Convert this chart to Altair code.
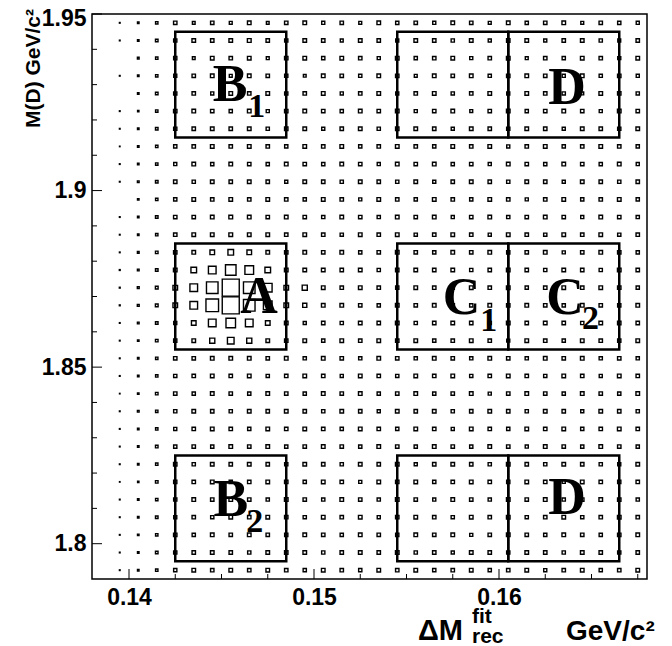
import altair as alt
import pandas as pd

# bin centres
x_centers = [0.1395, 0.1405, 0.1415, 0.1425, 0.1435, 0.1445, 0.1455, 0.1465, 0.1475, 0.1485,
             0.1495, 0.1505, 0.1515, 0.1525, 0.1535, 0.1545, 0.1555, 0.1565, 0.1575, 0.1585,
             0.1595, 0.1605, 0.1615, 0.1625, 0.1635, 0.1645, 0.1655, 0.1665, 0.1675]
y_centers = [1.9475, 1.9425, 1.9375, 1.9325, 1.9275, 1.9225, 1.9175, 1.9125, 1.9075, 1.9025,
             1.8975, 1.8925, 1.8875, 1.8825, 1.8775, 1.8725, 1.8675, 1.8625, 1.8575, 1.8525,
             1.8475, 1.8425, 1.8375, 1.8325, 1.8275, 1.8225, 1.8175, 1.8125, 1.8075, 1.8025,
             1.7975, 1.7925]

# bin contents (rows top to bottom)
counts = [
    [4,9,14,20,16,20,17,21,16,20,21,18,20,17,21,19,20,18,21,20,17,21,19,20,21,17,20,19,18],
    [4,9,15,19,21,20,21,22,20,19,21,20,17,21,20,18,21,20,19,21,18,20,21,18,20,21,19,17,20],
    [0,10,14,19,16,21,20,21,17,20,21,19,21,20,18,21,19,20,21,18,20,21,17,20,19,21,20,18,21],
    [4,9,14,18,20,21,17,21,20,19,16,21,20,19,21,20,17,21,20,21,19,20,21,20,18,21,19,20,18],
    [0,9,15,19,20,18,21,20,21,19,20,21,18,20,21,18,20,21,19,20,21,18,21,20,19,17,21,20,19],
    [4,8,14,20,21,20,19,21,18,20,21,20,19,21,20,21,18,20,21,17,20,21,19,20,21,20,18,21,20],
    [4,9,15,19,20,21,20,21,19,20,21,18,20,21,19,20,21,20,18,21,20,19,21,20,18,21,20,19,21],
    [3,9,14,19,20,21,20,21,20,19,21,20,21,19,20,21,20,19,21,20,21,18,20,21,19,20,21,20,19],
    [4,9,14,18,21,19,21,20,19,21,20,19,21,20,18,21,20,21,19,20,18,21,20,19,21,20,19,21,18],
    [4,10,15,20,19,21,20,21,20,18,21,20,19,21,20,19,21,18,20,21,20,19,21,20,18,21,20,19,20],
    [0,9,14,19,21,20,21,20,21,20,19,21,20,18,21,20,19,21,20,19,21,20,18,20,21,19,20,21,19],
    [4,9,15,20,20,21,22,21,20,21,20,19,21,20,19,21,20,21,18,20,21,19,20,21,20,18,21,20,19],
    [4,9,14,20,21,21,22,21,21,20,21,20,19,21,20,21,19,20,21,20,18,21,20,19,21,20,21,19,20],
    [4,10,15,20,21,27,33,27,21,20,21,20,21,19,20,21,20,19,21,20,21,19,20,21,18,20,21,20,19],
    [5,10,15,21,33,45,62,51,33,21,21,21,20,21,19,20,21,20,21,19,20,21,20,19,21,20,19,21,20],
    [5,11,16,27,45,68,100,68,51,27,30,21,20,21,20,19,21,20,19,21,20,21,19,20,21,20,21,20,19],
    [5,11,16,27,45,74,100,68,51,27,24,21,21,20,19,21,20,21,20,19,21,20,21,20,19,21,20,19,21],
    [4,10,15,18,27,45,56,45,27,21,18,20,19,21,20,21,19,20,21,20,19,21,20,21,20,19,21,20,20],
    [4,9,15,19,21,30,39,30,21,20,21,19,21,20,21,20,21,19,20,21,20,18,21,20,19,21,20,19,21],
    [4,9,14,20,20,21,21,21,20,21,19,21,20,19,21,20,19,21,20,19,21,20,19,21,20,21,19,20,19],
    [4,9,14,19,20,21,20,21,19,20,21,20,18,21,20,19,21,20,21,19,20,21,20,19,21,20,18,21,20],
    [3,9,15,20,19,21,20,19,21,20,19,21,20,21,19,20,21,19,20,21,18,20,21,20,19,21,20,19,21],
    [4,10,14,19,21,20,19,21,20,21,20,19,21,20,18,21,20,21,19,20,21,20,19,21,20,18,21,20,19],
    [4,9,14,18,20,21,20,19,21,20,21,20,19,21,20,19,21,20,18,21,20,19,21,20,21,19,20,21,20],
    [4,9,15,19,20,19,21,20,21,19,20,21,20,19,21,20,19,21,20,19,21,20,18,21,20,19,21,20,19],
    [4,9,14,20,19,21,20,21,20,19,21,20,19,21,20,21,18,20,21,20,19,21,20,19,21,20,19,18,21],
    [3,8,15,19,20,21,19,20,21,20,19,21,20,18,21,20,21,19,20,21,20,19,21,20,18,21,20,19,20],
    [4,9,14,19,21,20,21,20,19,21,20,19,21,20,19,21,20,18,21,20,19,21,20,21,19,20,21,20,19],
    [4,9,15,18,20,19,21,20,21,20,19,21,20,21,18,20,21,20,19,21,20,21,19,20,21,19,20,21,20],
    [4,9,14,20,19,21,20,21,20,19,21,20,19,21,20,19,21,20,21,18,20,21,20,19,21,20,19,20,21],
    [4,9,15,19,20,21,20,19,21,20,21,19,20,21,20,21,19,20,18,21,20,19,21,20,19,21,20,19,20],
    [4,9,14,19,21,20,21,20,21,20,19,21,20,19,21,20,21,19,20,21,19,20,21,18,20,21,19,20,21],
]

# signal / sideband regions
box_x1 = [0.1425, 0.1425, 0.1425, 0.1545, 0.1605, 0.1545, 0.1605, 0.1545, 0.1605]
box_x2 = [0.1485, 0.1485, 0.1485, 0.1605, 0.1665, 0.1605, 0.1665, 0.1605, 0.1665]
box_y1 = [1.915, 1.855, 1.795, 1.915, 1.915, 1.855, 1.855, 1.795, 1.795]
box_y2 = [1.945, 1.885, 1.825, 1.945, 1.945, 1.885, 1.885, 1.825, 1.825]

# region labels
lab_text = ["B", "A", "C", "C", "D", "D", "B"]
lab_x = [0.14546, 0.14703, 0.15798, 0.16357, 0.16368, 0.16368, 0.14550]
lab_y = [1.92989, 1.86986, 1.86949, 1.86960, 1.92904, 1.81294, 1.81237]
sub_text = ["1", "1", "2", "2"]
sub_x = [0.14690, 0.15945, 0.16495, 0.14680]
sub_y = [1.92366, 1.86315, 1.86363, 1.80614]

# axis ticks
x_major = [0.14, 0.15, 0.16]
x_minor = [0.1425, 0.145, 0.1475, 0.1525, 0.155, 0.1575, 0.1625, 0.165, 0.1675]
y_major = [1.8, 1.85, 1.9, 1.95]
y_minor = [1.81, 1.82, 1.83, 1.84, 1.86, 1.87, 1.88, 1.89, 1.91, 1.92, 1.93, 1.94]

assert len(counts) == len(y_centers)
for row in counts:
    assert len(row) == len(x_centers), len(row)

cells = []
for r, yc in enumerate(y_centers):
    for c, xc in enumerate(x_centers):
        if counts[r][c] > 0:
            cells.append({"x": xc, "y": yc, "n": counts[r][c]})
df = pd.DataFrame(cells)

SANS = "Liberation Sans"
SERIF = "Liberation Serif"
W, H = 555, 565

xs = alt.Scale(domain=[0.138, 0.168], nice=False, zero=False)
ys = alt.Scale(domain=[1.79, 1.95], nice=False, zero=False)

xaxis = alt.Axis(values=x_major, ticks=False, domain=False, grid=False, labelFont=SANS,
                 labelFontSize=23, labelFontWeight="bold", labelColor="black", labelPadding=7,
                 labelExpr="format(datum.value, '~g')", title="")
yaxis = alt.Axis(values=y_major, ticks=False, domain=False, grid=False, labelFont=SANS,
                 labelFontSize=23, labelFontWeight="bold", labelColor="black", labelPadding=6,
                 labelOffset={"condition": {"test": "datum.value == 1.95", "value": 4}, "value": 0},
                 labelExpr="format(datum.value, '~g')", title="")

squares = alt.Chart(df).mark_square(filled=False, stroke="black", strokeWidth=1.4, opacity=1).encode(
    x=alt.X("x:Q", scale=xs, axis=xaxis),
    y=alt.Y("y:Q", scale=ys, axis=yaxis),
    size=alt.Size("n:Q", scale=alt.Scale(type="pow", exponent=2, domain=[0, 100], range=[0, 289]),
                  legend=None),
)

boxes_df = pd.DataFrame({"x1": box_x1, "x2": box_x2, "y1": box_y1, "y2": box_y2})
boxes = alt.Chart(boxes_df).mark_rect(filled=False, stroke="black", strokeWidth=2.5).encode(
    x=alt.X("x1:Q", scale=xs), x2="x2:Q",
    y=alt.Y("y1:Q", scale=ys), y2="y2:Q",
)

xmaj = alt.Chart(pd.DataFrame({"v": x_major})).mark_rule(color="black", strokeWidth=1).encode(
    x=alt.X("v:Q", scale=xs), y=alt.value(H), y2=alt.value(H - 10))
xmin = alt.Chart(pd.DataFrame({"v": x_minor})).mark_rule(color="black", strokeWidth=1).encode(
    x=alt.X("v:Q", scale=xs), y=alt.value(H), y2=alt.value(H - 5))
ymaj = alt.Chart(pd.DataFrame({"v": y_major})).mark_rule(color="black", strokeWidth=1).encode(
    y=alt.Y("v:Q", scale=ys), x=alt.value(0), x2=alt.value(10))
ymin = alt.Chart(pd.DataFrame({"v": y_minor})).mark_rule(color="black", strokeWidth=1).encode(
    y=alt.Y("v:Q", scale=ys), x=alt.value(0), x2=alt.value(5))

letters = alt.Chart(pd.DataFrame({"t": lab_text, "x": lab_x, "y": lab_y})).mark_text(
    font=SERIF, fontWeight="bold", fontSize=52, color="black", align="center", baseline="middle"
).encode(x=alt.X("x:Q", scale=xs), y=alt.Y("y:Q", scale=ys), text="t:N")

subs = alt.Chart(pd.DataFrame({"t": sub_text, "x": sub_x, "y": sub_y})).mark_text(
    font=SERIF, fontWeight="bold", fontSize=34, color="black", align="center", baseline="middle"
).encode(x=alt.X("x:Q", scale=xs), y=alt.Y("y:Q", scale=ys), text="t:N")

one = pd.DataFrame({"t": [""]})
ytitle = alt.Chart(one).mark_text(
    text="M(D) GeV/c\u00b2", font=SANS, fontWeight="bold", fontSize=21, color="black",
    angle=270, align="right", baseline="alphabetic"
).encode(x=alt.value(-52), y=alt.value(-5))

dm = alt.Chart(one).mark_text(
    text="\u0394M", font=SANS, fontWeight="bold", fontSize=29, color="black",
    align="left", baseline="alphabetic"
).encode(x=alt.value(326), y=alt.value(626))
fit = alt.Chart(one).mark_text(
    text="fit", font=SANS, fontWeight="bold", fontSize=21, color="black",
    align="left", baseline="alphabetic"
).encode(x=alt.value(380), y=alt.value(609))
rec = alt.Chart(one).mark_text(
    text="rec", font=SANS, fontWeight="bold", fontSize=21, color="black",
    align="left", baseline="alphabetic"
).encode(x=alt.value(380), y=alt.value(629))
gev = alt.Chart(one).mark_text(
    text="GeV/c\u00b2", font=SANS, fontWeight="bold", fontSize=28, color="black",
    align="left", baseline="alphabetic"
).encode(x=alt.value(474), y=alt.value(626))

chart = alt.layer(
    squares, boxes, xmaj, xmin, ymaj, ymin, letters, subs, ytitle, dm, fit, rec, gev
).properties(
    width=W, height=H,
    autosize=alt.AutoSizeParams(type="none"),
    padding={"left": 84, "top": 6, "right": 17, "bottom": 67},
    background="white",
).configure_view(stroke="black", strokeWidth=1.5)

chart.save("out.html", embed_options={"renderer": "svg", "actions": False})
